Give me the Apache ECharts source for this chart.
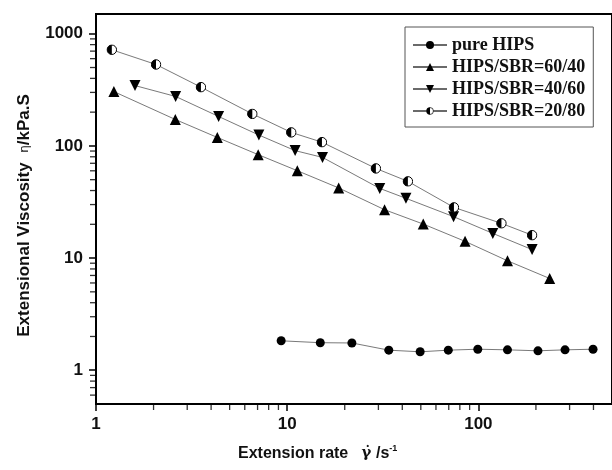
<!DOCTYPE html>
<html>
<head>
<meta charset="utf-8">
<script src="https://cdn.jsdelivr.net/npm/echarts@6/dist/echarts.min.js"></script>
<style>
  body { margin: 0; background: #fff; }
</style>
</head>
<body>
<div id="MyChart" style="width: 612px;height:470px"></div>
<script>
// data (x = extension rate /s-1, y = viscosity kPa.S)
const pureX = [9.3, 14.9, 21.8, 34, 49.6, 69.6, 99.3, 142, 205, 284, 398]
const pureY = [1.83, 1.76, 1.75, 1.51, 1.46, 1.51, 1.54, 1.52, 1.49, 1.52, 1.54]
const s6040X = [1.24, 2.6, 4.31, 7.05, 11.3, 18.6, 32.3, 51.5, 85.2, 142, 236]
const s6040Y = [305, 172, 119, 83.6, 60.1, 42.2, 27, 20.1, 14.1, 9.46, 6.58]
const s4060X = [1.6, 2.61, 4.38, 7.11, 11.0, 15.3, 30.5, 41.8, 74.2, 119, 191]
const s4060Y = [345, 276, 183, 125, 90.8, 79, 41.8, 34.1, 23.4, 16.6, 11.9]
const s2080X = [1.21, 2.06, 3.54, 6.57, 10.5, 15.2, 29.1, 42.8, 74.5, 132, 191]
const s2080Y = [720, 532, 334, 193, 132, 108, 63, 48.3, 28.3, 20.4, 16.0]
const seriesNames = ['pure HIPS', 'HIPS/SBR=60/40', 'HIPS/SBR=40/60', 'HIPS/SBR=20/80']

// axis ranges and tick values
const xMin = 1, xMax = 500
const yMin = 0.5, yMax = 1500
const xMajor = [1, 10, 100]
const yMajor = [1, 10, 100, 1000]
const xMinor = [2, 3, 4, 5, 6, 7, 8, 9, 20, 30, 40, 50, 60, 70, 80, 90, 200, 300, 400]
const yMinor = [0.6, 0.7, 0.8, 0.9, 2, 3, 4, 5, 6, 7, 8, 9, 20, 30, 40, 50, 60, 70, 80, 90,
  200, 300, 400, 500, 600, 700, 800, 900]

function zip(xs, ys) {
  let out = []
  for (let i = 0; i < xs.length; i++) out.push([xs[i], ys[i]])
  return out
}

// half filled circle (left black, right white)
const halfSvg = "<svg xmlns='http://www.w3.org/2000/svg' width='20' height='20'>" +
  "<circle cx='10' cy='10' r='8.6' fill='white' stroke='black' stroke-width='1.8'/>" +
  "<path d='M10 1.4 A8.6 8.6 0 0 0 10 18.6 Z' fill='black'/></svg>"
const halfSymbol = 'image://data:image/svg+xml;charset=utf-8,' + encodeURIComponent(halfSvg)

const lineStyle = { color: '#6a6a6a', width: 0.9 }
const axisFont = { fontFamily: 'Liberation Sans', fontWeight: 'bold', fontSize: 17, color: '#111' }
const boldSans = { fontFamily: 'Liberation Sans', fontWeight: 'bold', fontSize: 17, color: '#111' }

// minor ticks: short marks sitting on the axes, placed by the log scales
function minorTicks(data, size, offset) {
  return {
    type: 'scatter', data: data, clip: false, silent: true,
    symbol: 'rect', symbolSize: size, symbolOffset: offset,
    itemStyle: { color: '#000' }, z: 5
  }
}

let myChart = echarts.init(document.getElementById('MyChart'))
let option = {
  animation: false,
  backgroundColor: '#fff',
  title: {
    text: '{b|Extension rate   }{g|γ̇}{b| /s}{sup|-1}',
    left: 238,
    top: 444,
    padding: 0,
    textStyle: {
      rich: {
        b: { fontFamily: 'Liberation Sans', fontWeight: 'bold', fontSize: 16, color: '#111' },
        g: { fontFamily: 'DejaVu Serif', fontSize: 15, color: '#111' },
        sup: { fontFamily: 'Liberation Sans', fontWeight: 'bold', fontSize: 9, color: '#111', verticalAlign: 'top', padding: [0, 0, 10, 0] }
      }
    }
  },
  grid: {
    left: 96, top: 14, width: 525, height: 390,
    show: true, borderColor: '#000', borderWidth: 2, backgroundColor: '#fff'
  },
  legend: {
    orient: 'vertical',
    left: 405, top: 27,
    padding: [9, 8, 7, 7],
    itemWidth: 34, itemHeight: 10, itemGap: 4, itemTextGap: 14,
    borderColor: '#555', borderWidth: 1,
    data: seriesNames,
    textStyle: { fontFamily: 'Liberation Serif', fontWeight: 'bold', fontSize: 18, color: '#111' }
  },
  xAxis: {
    type: 'log', logBase: 10, min: xMin, max: xMax,
    axisLine: { onZero: false, lineStyle: { color: '#000', width: 2 } },
    axisTick: { customValues: xMajor, length: 7, lineStyle: { color: '#000', width: 1.5 } },
    axisLabel: { customValues: xMajor, margin: 12, formatter: v => String(v), ...axisFont },
    splitLine: { show: false }
  },
  yAxis: {
    type: 'log', logBase: 10, min: yMin, max: yMax,
    axisLine: { onZero: false, lineStyle: { color: '#000', width: 2 } },
    axisTick: { customValues: yMajor, length: 7, lineStyle: { color: '#000', width: 1.5 } },
    axisLabel: { customValues: yMajor, margin: 13, formatter: v => String(v), ...axisFont },
    splitLine: { show: false },
    name: '{b|Extensional Viscosity  }{g|η}{b|/kPa.S}',
    nameLocation: 'middle',
    nameGap: 63,
    nameTextStyle: {
      padding: [0, 13, 0, 0],
      rich: {
        b: boldSans,
        g: { fontFamily: 'DejaVu Sans', fontSize: 12, color: '#111' }
      }
    }
  },
  series: [
    {
      name: seriesNames[0], type: 'line', data: zip(pureX, pureY),
      symbol: 'circle', symbolSize: 9,
      itemStyle: { color: '#000' }, lineStyle: lineStyle
    },
    {
      name: seriesNames[1], type: 'line', data: zip(s6040X, s6040Y),
      symbol: 'triangle', symbolSize: 11,
      itemStyle: { color: '#000' }, lineStyle: lineStyle
    },
    {
      name: seriesNames[2], type: 'line', data: zip(s4060X, s4060Y),
      symbol: 'triangle', symbolSize: 11, symbolRotate: 180,
      itemStyle: { color: '#000' }, lineStyle: lineStyle
    },
    {
      name: seriesNames[3], type: 'line', data: zip(s2080X, s2080Y),
      symbol: halfSymbol, symbolSize: 11,
      itemStyle: { color: '#000' }, lineStyle: lineStyle
    },
    minorTicks(xMinor.map(v => [v, yMin]), [1.3, 5], [0, 3.5]),
    minorTicks(yMinor.map(v => [xMin, v]), [5, 1.3], [-3.5, 0])
  ]
}
myChart.setOption(option)
</script>
</body>
</html>
